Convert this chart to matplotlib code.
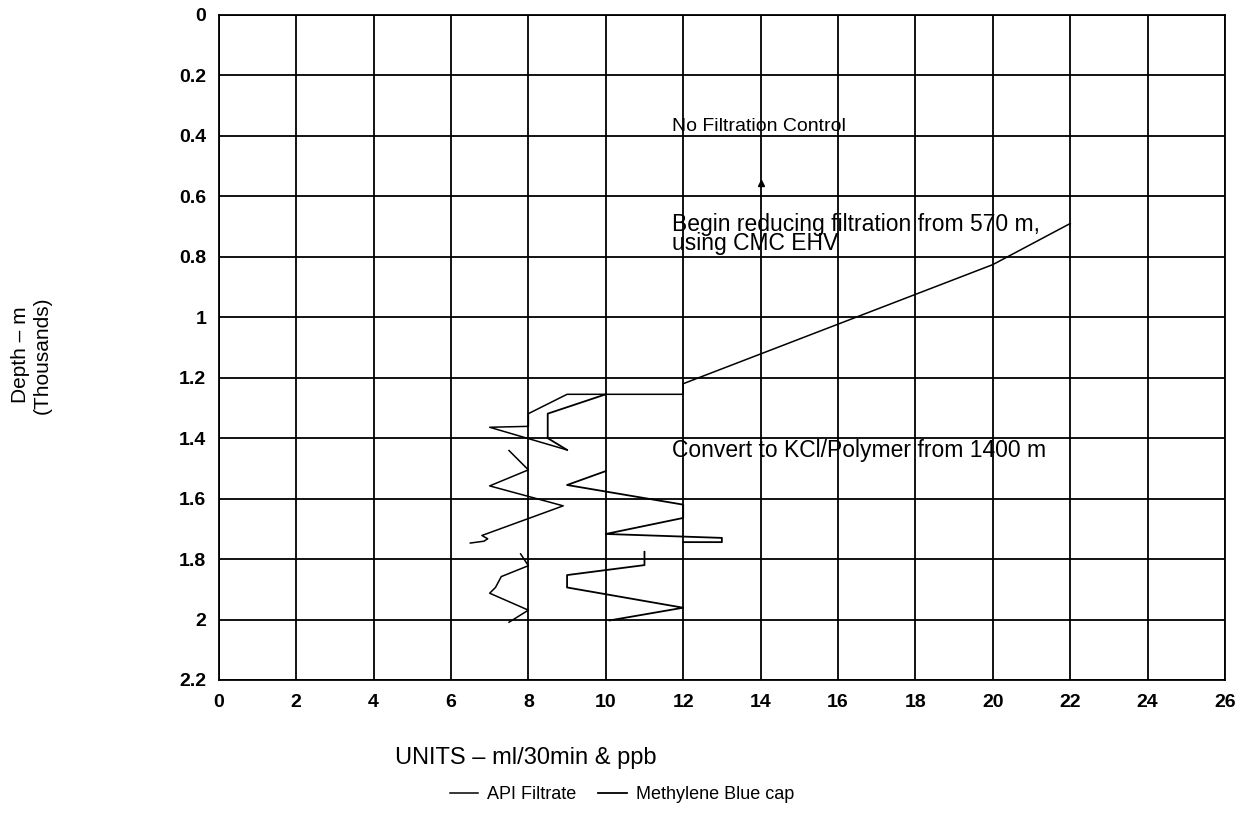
import numpy as np
import matplotlib
matplotlib.use("Agg")
import matplotlib.pyplot as plt

# Mud properties vs depth
# depth in thousands of metres, nan = break in the line
api_units = [22, 20, 12, 12, 9, 8, 8, 7, 9, np.nan,
             7.5, 8, 7, 8.9, 6.8, 6.95, 6.85, 6.5, np.nan,
             7.8, 8, 7.3, 7.15, 7, 8, 7.5]
api_depth = [0.69, 0.826, 1.22, 1.255, 1.255, 1.319, 1.361, 1.364, 1.439, np.nan,
             1.441, 1.505, 1.558, 1.624, 1.722, 1.733, 1.741, 1.747, np.nan,
             1.783, 1.822, 1.858, 1.894, 1.913, 1.969, 2.009]

mbt_units = [10, 8.5, 8.5, 9, np.nan,
             10, 9, 12, 12, 10, 13, 13, 12, np.nan,
             11, 11, 9, 9, 12, 10.1]
mbt_depth = [1.255, 1.319, 1.40, 1.439, np.nan,
             1.509, 1.555, 1.62, 1.664, 1.717, 1.73, 1.744, 1.744, np.nan,
             1.776, 1.82, 1.853, 1.894, 1.961, 2.003]

# notes written on the chart: (units, depth, text, size)
notes = [
    (11.7, 0.37, "No Filtration Control", 14),
    (11.7, 0.725, "Begin reducing filtration from 570 m,\nusing CMC EHV", 16.5),
    (11.7, 1.44, "Convert to KCl/Polymer from 1400 m", 16.5),
]

x_ticks = np.arange(0, 27, 2)
y_ticks = np.round(np.arange(0, 2.21, 0.2), 1)

plt.rcParams['font.family'] = ['Liberation Sans', 'DejaVu Sans']

fig = plt.figure(figsize=(12.5, 8.16), dpi=100)
ax = fig.add_axes([0.175, 0.1667, 0.805, 0.815])

ax.plot(api_units, api_depth, color="black", lw=1.1, label="API Filtrate")
ax.plot(mbt_units, mbt_depth, color="black", lw=1.3, label="Methylene Blue cap")
# small stray mark on the original
ax.plot([14], [0.555], marker="^", ms=4, color="black", lw=0)

for x, y, t, fs in notes:
    ax.text(x, y, t, fontsize=fs, va="center", ha="left", linespacing=0.8)

ax.set_xlim(0, 26)
ax.set_ylim(2.2, 0)
ax.set_xticks(x_ticks)
ax.set_yticks(y_ticks)
ax.set_xticklabels([f"{v:g}" for v in x_ticks], fontweight="bold", fontsize=14)
ax.set_yticklabels([f"{v:g}" for v in y_ticks], fontweight="bold", fontsize=14)
ax.tick_params(length=0, pad=9)
ax.tick_params(axis="x", pad=10)
ax.grid(True, color="black", lw=1.3)
for s in ax.spines.values():
    s.set_color("black")
    s.set_linewidth(1.3)

fig.text(0.025, 0.565, "Depth – m\n(Thousands)", rotation=90, ha="center",
         va="center", fontsize=15, multialignment="center")
fig.text(0.316, 0.071, "UNITS – ml/30min & ppb", fontsize=17, va="center")

fig.legend(loc="center", bbox_to_anchor=(0.4976, 0.026), ncol=2, frameon=False,
           fontsize=13, handlelength=1.6, handletextpad=0.5, columnspacing=1.2)

fig.savefig("out.png", dpi=100)
